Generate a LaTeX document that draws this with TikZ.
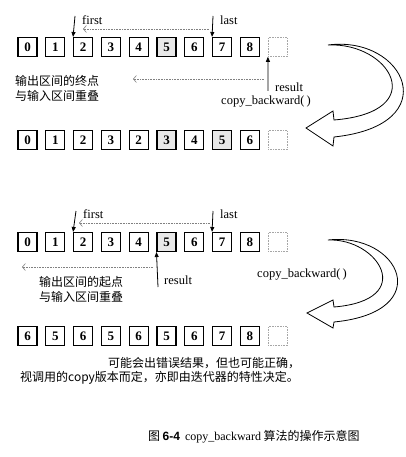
\documentclass[tikz,border=0pt]{standalone}
\usepackage{fontspec}
\setmainfont{Liberation Serif}
\newfontfamily\cjk{Noto Sans CJK SC}
\newfontfamily\hv{Liberation Sans}
\usetikzlibrary{arrows.meta}
\begin{document}
\begin{tikzpicture}[x=1pt,y=-1pt,
  cell/.style={draw, line width=1.1pt, minimum width=19pt, minimum height=19pt, inner sep=0pt, font=\bfseries\fontsize{13}{13}\selectfont},
  shaded/.style={cell, fill=gray!18},
  emptycell/.style={draw=gray!70, densely dotted, line width=0.6pt, minimum width=19pt, minimum height=19pt, inner sep=0pt},
  ptr/.style={-{Triangle[length=5pt,width=4pt]}, line width=0.8pt},
  dotarrow/.style={gray, densely dotted, line width=0.6pt, {Straight Barb[length=3pt,width=7pt]}-},
  lbl/.style={font=\fontsize{12.5}{13}\selectfont, inner sep=0pt},
  cn/.style={font=\cjk\fontsize{12}{15}\selectfont, inner sep=0pt, anchor=west, align=left},
  bigarrow/.style={draw, line width=0.8pt, fill=white, line join=miter}
]
\useasboundingbox (0,0) rectangle (405,457);

% rows of cells
\foreach \v/\s [count=\i from 0] in {0/cell,1/cell,2/cell,3/cell,4/cell,5/shaded,6/cell,7/cell,8/cell}
  \node[\s] (r1b\i) at (27.5+27.8*\i,47) {\v};
\node[emptycell] (r1b9) at (27.5+27.8*9,47) {};
\foreach \v/\s [count=\i from 0] in {0/cell,1/cell,2/cell,3/cell,2/cell,3/shaded,4/cell,5/shaded,6/cell}
  \node[\s] (r2b\i) at (27.5+27.8*\i,140) {\v};
\node[emptycell] (r2b9) at (27.5+27.8*9,140) {};
\foreach \v/\s [count=\i from 0] in {0/cell,1/cell,2/cell,3/cell,4/cell,5/shaded,6/cell,7/cell,8/cell}
  \node[\s] (r3b\i) at (27.5+27.8*\i,242) {\v};
\node[emptycell] (r3b9) at (27.5+27.8*9,242) {};
\foreach \v/\s [count=\i from 0] in {6/cell,5/cell,6/cell,5/cell,6/cell,5/cell,6/cell,7/cell,8/cell}
  \node[\s] (r4b\i) at (27.5+27.8*\i,336) {\v};
\node[emptycell] (r4b9) at (27.5+27.8*9,336) {};

% ---- upper part pointers
\coordinate (f1) at (75,16);
\coordinate (l1) at (213,16);
\draw[ptr] (f1) -- (r1b2.north west);
\draw[ptr] (l1) -- (r1b7.north west);
\node[lbl, anchor=west] (first1) at (82,20) {first};
\node[lbl, anchor=west] (last1) at (220,20) {last};
\coordinate (d1a) at (83,29);
\coordinate (d1b) at (210,29);
\draw[dotarrow] (d1a) -- (d1b);
\coordinate (res1) at (268,91);
\draw[ptr] (res1) -- (r1b9.south west);
\node[lbl, anchor=west] (result1) at (275,87) {result};
\coordinate (d2a) at (133,79);
\coordinate (d2b) at (264,79);
\draw[dotarrow] (d2a) -- (d2b);
\node[cn] (t1) at (15,88.5) {输出区间的终点\\与输入区间重叠};
\node[lbl] (cb1) at (266,102) {copy\_backward(\,)};

% big curved arrow 1
\draw[bigarrow] (328,45) .. controls (405,35) and (447,125) .. (334,137)
  -- (333,146) -- (306,128) -- (333,111) -- (334,120)
  .. controls (432,112) and (390,42) .. (328,45) -- cycle;

% ---- lower part pointers
\coordinate (f2) at (76,211);
\coordinate (l2) at (213,211);
\draw[ptr] (f2) -- (r3b2.north west);
\draw[ptr] (l2) -- (r3b7.north west);
\node[lbl, anchor=west] (first2) at (83,214) {first};
\node[lbl, anchor=west] (last2) at (220,214) {last};
\coordinate (d3a) at (79,223);
\coordinate (d3b) at (210,223);
\draw[dotarrow] (d3a) -- (d3b);
\coordinate (res2) at (158,287);
\draw[ptr] (res2) -- (r3b5.south west);
\node[lbl, anchor=west] (result2) at (164,280) {result};
\coordinate (d4a) at (22,267);
\coordinate (d4b) at (153,267);
\draw[dotarrow] (d4a) -- (d4b);
\node[cn] (t2) at (39,289) {输出区间的起点\\与输入区间重叠};
\node[lbl] (cb2) at (302,275) {copy\_backward(\,)};

% big curved arrow 2
\draw[bigarrow] (328,240) .. controls (400,232) and (437,312) .. (334,322)
  -- (333,328) -- (307,313) -- (333,300) -- (334,307)
  .. controls (418,300) and (378,238) .. (328,240) -- cycle;

% bottom notes
\node[cn] (n1) at (108,363) {可能会出错误结果，但也可能正确，};
\node[cn] (n2) at (20,378) {视调用的copy版本而定，亦即由迭代器的特性决定。};

% caption
\node[inner sep=0pt, anchor=west] (cap) at (148,437) {{\cjk\fontsize{12}{12}\selectfont 图}\ {\hv\bfseries\fontsize{12}{12}\selectfont 6-4}\ \ {\fontsize{12}{12}\selectfont copy\_backward} {\cjk\fontsize{12}{12}\selectfont 算法的操作示意图}};
\end{tikzpicture}
\end{document}
